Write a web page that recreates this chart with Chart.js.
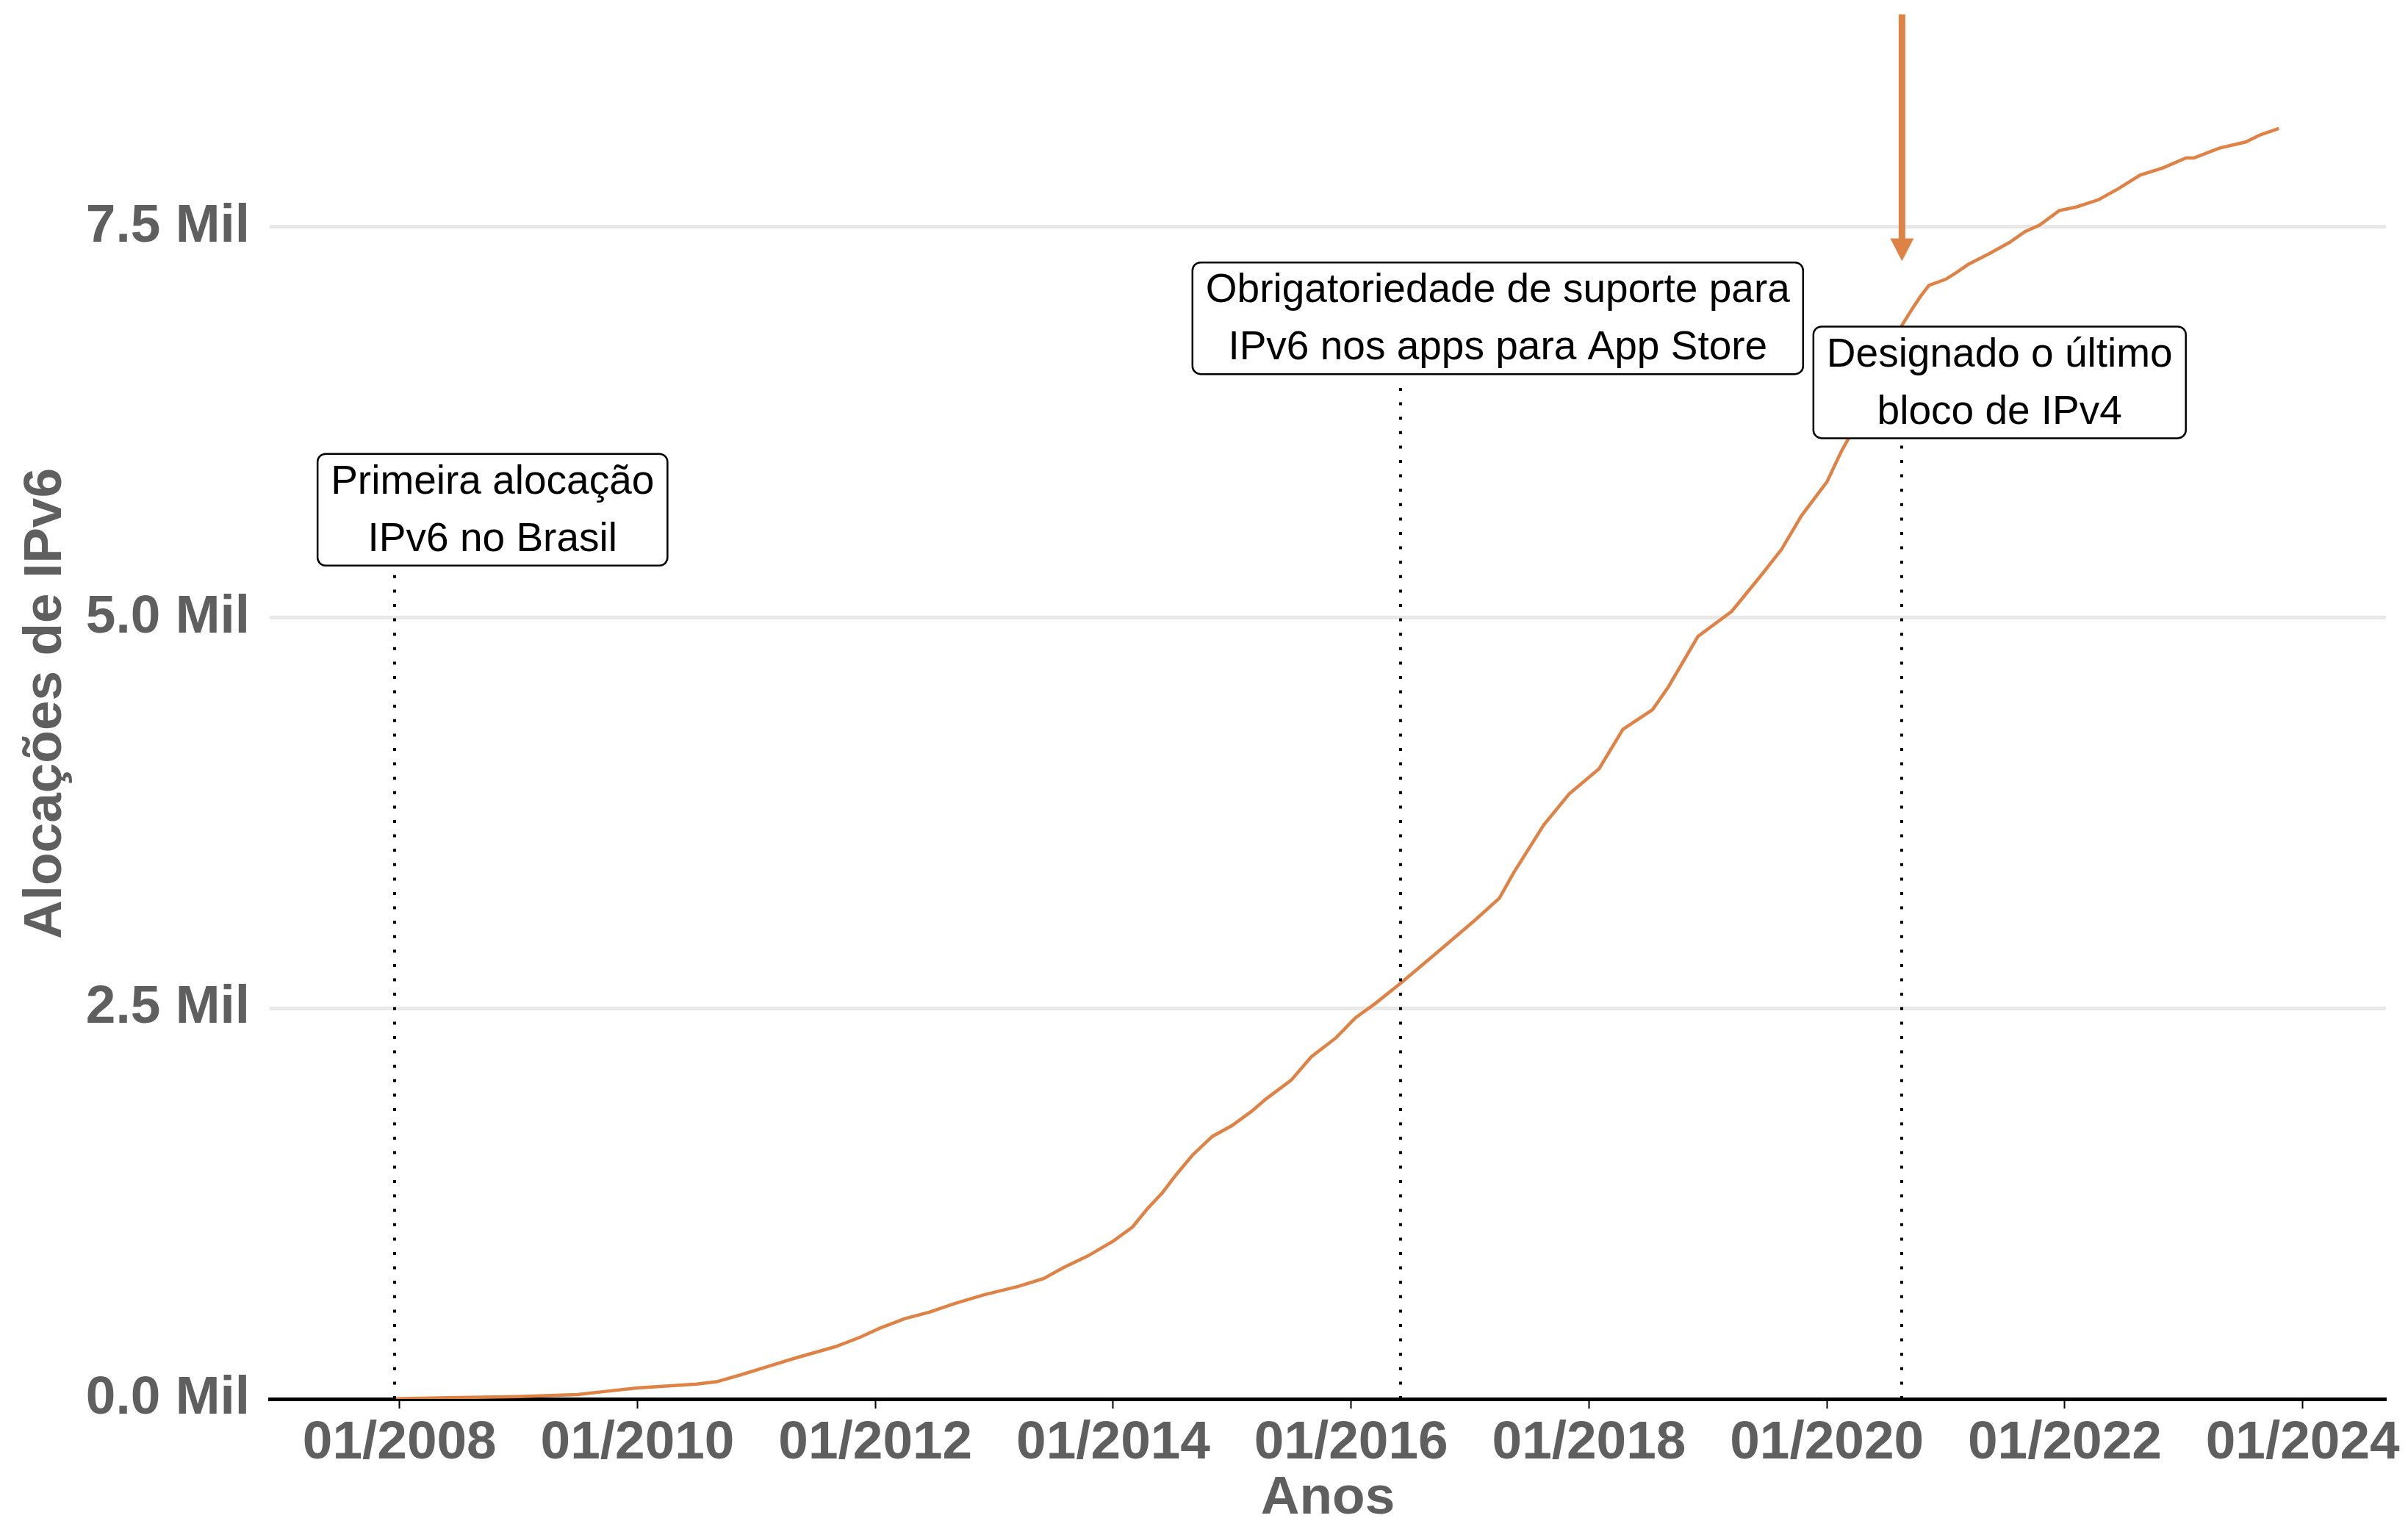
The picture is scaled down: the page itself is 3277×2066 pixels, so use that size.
<!DOCTYPE html>
<html>
<head>
<meta charset="utf-8">
<script src="https://cdn.jsdelivr.net/npm/chart.js@4.4.1/dist/chart.umd.min.js"></script>
<style>
  html, body { margin: 0; padding: 0; background: #ffffff; }
  #c { display: block; }
</style>
</head>
<body>
<canvas id="c" width="3277" height="2066" style="width:3277px;height:2066px"></canvas>
<script>
// ---------------- DATA ----------------
const dates = [
  "2007-12-17","2008-06-01","2009-01-01","2009-07-01","2009-10-01","2010-01-01","2010-07-01","2010-09-01",
  "2010-11-15","2011-02-01","2011-05-01","2011-09-01","2011-11-15","2012-01-15","2012-04-01","2012-06-15",
  "2012-09-01","2012-12-01","2013-03-15","2013-06-01","2013-08-01","2013-10-15","2014-01-01","2014-03-01",
  "2014-04-15","2014-06-01","2014-07-15","2014-09-01","2014-11-01","2015-01-01","2015-03-01","2015-04-15",
  "2015-07-01","2015-09-01","2015-11-15","2016-01-15","2016-03-15","2016-06-01","2016-09-15","2017-01-15",
  "2017-04-01","2017-05-15","2017-08-15","2017-11-01","2018-02-01","2018-04-15","2018-07-15","2018-09-01",
  "2018-12-01","2019-03-15","2019-06-15","2019-08-15","2019-10-15","2020-01-01","2020-02-15","2020-03-15",
  "2020-05-01","2020-07-01","2020-08-20","2020-09-20","2020-10-15","2020-11-10","2021-01-01","2021-02-05",
  "2021-03-10","2021-05-15","2021-07-15","2021-09-01","2021-10-15","2021-12-15","2022-02-05","2022-04-15",
  "2022-06-15","2022-08-20","2022-10-30","2023-01-08","2023-02-01","2023-04-20","2023-07-10","2023-08-25",
  "2023-10-20"
];
const allocations = [
  1, 8, 15, 28, 50, 70, 95, 110,
  155, 205, 262, 335, 395, 453, 514, 555,
  611, 667, 720, 770, 840, 915, 1010, 1100,
  1215, 1320, 1440, 1560, 1680, 1750, 1840, 1920,
  2040, 2190, 2310, 2440, 2530, 2660, 2846, 3062,
  3205, 3368, 3673, 3871, 4033, 4285, 4411, 4555,
  4879, 5040, 5275, 5437, 5652, 5868, 6066, 6174,
  6400, 6650, 6875, 6977, 7055, 7126, 7165, 7212,
  7259, 7330, 7400, 7470, 7510, 7604, 7627, 7674,
  7745, 7831, 7878, 7941, 7941, 8004, 8043, 8090,
  8130
];
const xTickYears = [2008, 2010, 2012, 2014, 2016, 2018, 2020, 2022, 2024];
const yTickValues = [0, 2500, 5000, 7500];

// events (vertical dotted markers and their labels)
const eventDates = ["2007-12-17", "2016-06-01", "2020-08-19"];
const eventLabels = [
  ["Primeira alocação", "IPv6 no Brasil"],
  ["Obrigatoriedade de suporte para", "IPv6 nos apps para App Store"],
  ["Designado o último", "bloco de IPv4"]
];
const eventLabelDates = ["2008-10-13", "2017-03-27", "2021-06-15"];
const eventLabelValues = [5690, 6915, 6505];
const eventLineTops = [5290, 6520, 6100];
// highlight arrow
const arrowDate = "2020-08-19";
const arrowFromValue = 8860;
const arrowToValue = 7280;

// ---------------- HELPERS ----------------
function toYear(s) {
  const d = new Date(s + "T00:00:00Z");
  const y = d.getUTCFullYear();
  const a = Date.UTC(y, 0, 1), b = Date.UTC(y + 1, 0, 1);
  return y + (d.getTime() - a) / (b - a);
}

const ORANGE = "#DE8246";
const GREY = "#5f5f5f";
const FONT = '"Liberation Sans", Arimo, Arial, Helvetica, sans-serif';

const annotationPlugin = {
  id: "annotations",
  afterDatasetsDraw(chart) {
    const { ctx } = chart;
    const xs = chart.scales.x, ys = chart.scales.y;
    ctx.save();
    // dotted vertical lines
    eventDates.forEach((d, i) => {
      const px = Math.round(xs.getPixelForValue(toYear(d)));
      ctx.beginPath();
      ctx.setLineDash([4, 15.6]);
      ctx.lineWidth = 4;
      ctx.lineCap = "butt";
      ctx.strokeStyle = "#000";
      ctx.moveTo(px, ys.getPixelForValue(0));
      ctx.lineTo(px, ys.getPixelForValue(eventLineTops[i]));
      ctx.stroke();
    });
    ctx.setLineDash([]);
    // labels
    ctx.font = "55px " + FONT;
    const lineGap = 78;
    eventLabels.forEach((lines, i) => {
      const cx = xs.getPixelForValue(toYear(eventLabelDates[i]));
      const cy = ys.getPixelForValue(eventLabelValues[i]);
      const w = Math.max(...lines.map(l => ctx.measureText(l).width)) + 36;
      const h = lines.length * lineGap - 4;
      const x0 = cx - w / 2, y0 = cy - h / 2;
      ctx.beginPath();
      ctx.roundRect(x0, y0, w, h, 11);
      ctx.fillStyle = "#fff";
      ctx.fill();
      ctx.lineWidth = 2.5;
      ctx.strokeStyle = "#000";
      ctx.stroke();
      ctx.fillStyle = "#000";
      ctx.textAlign = "center";
      ctx.textBaseline = "middle";
      lines.forEach((l, k) => {
        ctx.fillText(l, cx, cy + (k - (lines.length - 1) / 2) * lineGap + 2);
      });
    });
    // arrow
    const ax = xs.getPixelForValue(toYear(arrowDate));
    const ay0 = ys.getPixelForValue(arrowFromValue);
    const ay1 = ys.getPixelForValue(arrowToValue);
    const headL = 31, headW = 32;
    ctx.fillStyle = ORANGE;
    ctx.fillRect(ax - 4.5, ay0, 9, (ay1 - headL) - ay0 + 1);
    ctx.beginPath();
    ctx.moveTo(ax - headW / 2, ay1 - headL);
    ctx.lineTo(ax + headW / 2, ay1 - headL);
    ctx.lineTo(ax, ay1);
    ctx.closePath();
    ctx.fill();
    ctx.restore();
  }
};

const points = dates.map((d, i) => ({ x: toYear(d), y: allocations[i] }));

new Chart(document.getElementById("c"), {
  type: "line",
  data: {
    datasets: [{
      label: "Alocações de IPv6",
      data: points,
      borderColor: ORANGE,
      borderWidth: 4.5,
      pointRadius: 0,
      tension: 0,
      fill: false
    }]
  },
  options: {
    responsive: false,
    animation: false,
    devicePixelRatio: 1,
    layout: { padding: { top: 11, right: 30, left: 0, bottom: 0 } },
    plugins: { legend: { display: false }, tooltip: { enabled: false } },
    scales: {
      x: {
        type: "linear",
        min: 2006.908,
        max: 2024.70,
        afterBuildTicks(scale) { scale.ticks = xTickYears.map(v => ({ value: v })); },
        afterFit(scale) { scale.height = 162; scale.paddingLeft = 0; scale.paddingRight = 0; },
        ticks: {
          autoSkip: false, maxRotation: 0, minRotation: 0,
          padding: 4,
          color: GREY,
          font: { family: FONT, size: 73, weight: "bold" },
          callback: v => "01/" + v
        },
        grid: {
          drawOnChartArea: false, drawTicks: true, tickLength: 13,
          tickWidth: 2, tickColor: "#000"
        },
        border: { display: true, color: "#000", width: 5 },
        title: {
          display: true, text: "Anos", color: GREY,
          font: { family: FONT, size: 73, weight: "bold", lineHeight: 1 },
          padding: { top: 0, bottom: -10 }
        }
      },
      y: {
        type: "linear",
        min: 0,
        max: 8900,
        afterBuildTicks(scale) { scale.ticks = yTickValues.map(v => ({ value: v })); },
        afterFit(scale) { scale.width = 367; scale.paddingTop = 0; scale.paddingBottom = 0; },
        ticks: {
          padding: 27,
          color: GREY,
          font: { family: FONT, size: 73, weight: "bold" },
          callback: v => (v / 1000).toFixed(1) + " Mil"
        },
        grid: {
          drawTicks: false,
          lineWidth: 5,
          color: ctx => (ctx.tick && ctx.tick.value === 0) ? "rgba(0,0,0,0)" : "#e8e8e8"
        },
        border: { display: false },
        title: {
          display: true, text: "Alocações de IPv6", color: GREY,
          font: { family: FONT, size: 73, weight: "bold", lineHeight: 1.2 },
          padding: { top: 19, bottom: 0 }
        }
      }
    }
  },
  plugins: [annotationPlugin]
});
</script>
</body>
</html>
